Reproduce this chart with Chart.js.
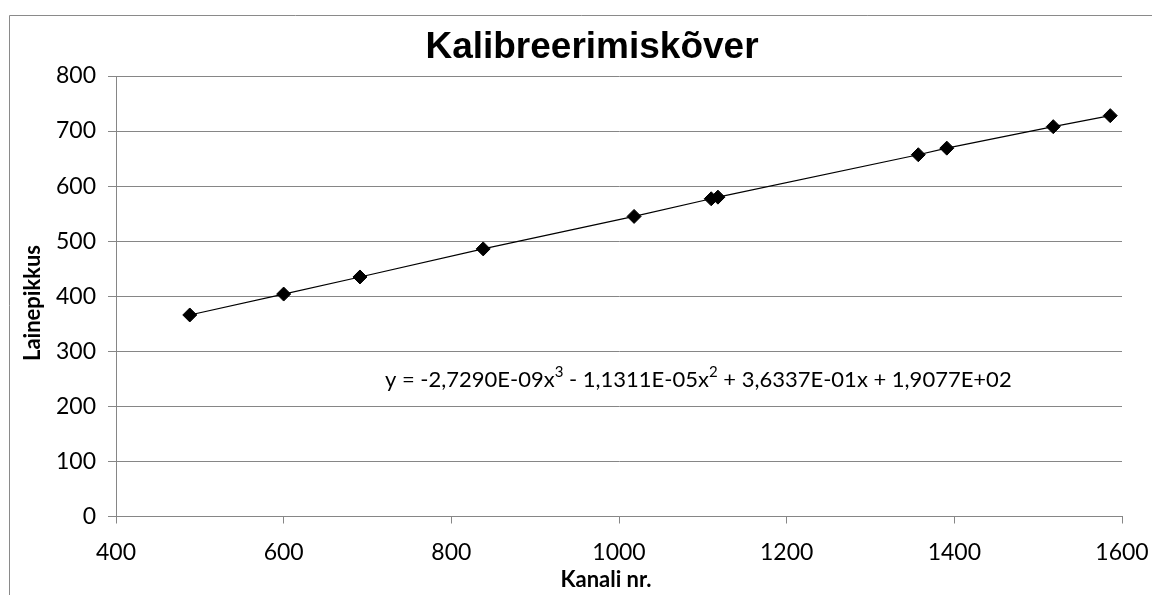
<!DOCTYPE html>
<html>
<head>
<meta charset="utf-8">
<script src="https://cdn.jsdelivr.net/npm/chart.js@4/dist/chart.umd.min.js"></script>
<style>
  html, body { margin: 0; padding: 0; background: #ffffff; }
  canvas { display: block; }
</style>
</head>
<body>
<canvas id="c" width="1152" height="595"></canvas>
<script>
// ---- data ----
const channels = [488, 600, 691, 838, 1018, 1110, 1118, 1357, 1391, 1518, 1586];
const wavelengths = [366, 404, 435, 486, 545, 577, 580, 657, 669, 708, 728];
const xTicks = [400, 600, 800, 1000, 1200, 1400, 1600];
const yTicks = [0, 100, 200, 300, 400, 500, 600, 700, 800];
const chartTitle = 'Kalibreerimiskõver';
const xTitle = 'Kanali nr.';
const yTitle = 'Lainepikkus';
// equation label parts: [text, isSuperscript]
const equationParts = [
  ['y = -2,7290E-09x', false], ['3', true],
  [' - 1,1311E-05x', false], ['2', true],
  [' + 3,6337E-01x + 1,9077E+02', false]
];

const FONT = 'Lato, "Open Sans", "Liberation Sans", sans-serif';
const GRID = '#868686';

const points = channels.map((x, i) => ({ x: x, y: wavelengths[i] }));

const decor = {
  id: 'decor',
  beforeDraw(chart) {
    const ctx = chart.ctx;
    ctx.save();
    ctx.fillStyle = '#ffffff';
    ctx.fillRect(0, 0, chart.width, chart.height);
    ctx.strokeStyle = '#8a8a8a';
    ctx.lineWidth = 1;
    ctx.beginPath();
    ctx.moveTo(9.5, chart.height + 2);
    ctx.lineTo(9.5, 15.5);
    ctx.lineTo(chart.width + 2, 15.5);
    ctx.stroke();
    ctx.restore();
  },
  afterDraw(chart) {
    const ctx = chart.ctx;
    ctx.save();
    // chart title
    ctx.fillStyle = '#000000';
    ctx.font = 'bold 37px "Liberation Sans", Arial, sans-serif';
    ctx.textAlign = 'center';
    ctx.textBaseline = 'alphabetic';
    ctx.fillText(chartTitle, 592, 58);
    // axis titles
    ctx.font = 'bold 22px ' + FONT;
    ctx.textBaseline = 'middle';
    ctx.fillText(xTitle, 606, 580);
    ctx.save();
    ctx.translate(33, 303);
    ctx.rotate(-Math.PI / 2);
    ctx.fillText(yTitle, 0, 0);
    ctx.restore();
    // equation
    ctx.textAlign = 'left';
    ctx.textBaseline = 'alphabetic';
    let x = 385;
    const base = 387;
    equationParts.forEach(([t, sup]) => {
      ctx.font = (sup ? '15px ' : '22px ') + FONT;
      ctx.fillText(t, x, sup ? base - 10 : base);
      x += ctx.measureText(t).width;
    });
    ctx.restore();
  }
};

new Chart(document.getElementById('c'), {
  type: 'scatter',
  data: {
    datasets: [
      {
        label: 'Kalibreerimispunktid',
        data: points,
        pointStyle: 'rectRot',
        pointRadius: 7,
        pointHoverRadius: 7,
        backgroundColor: '#000000',
        borderColor: '#000000',
        borderWidth: 1,
        showLine: false,
        order: 0
      },
      {
        label: 'Trend',
        data: points,
        showLine: true,
        borderColor: '#000000',
        borderWidth: 1.2,
        pointRadius: 0,
        pointHoverRadius: 0,
        fill: false,
        order: 1
      }
    ]
  },
  plugins: [decor],
  options: {
    responsive: false,
    animation: false,
    devicePixelRatio: 1,
    layout: { padding: { top: 76, right: 30, bottom: 0, left: 0 } },
    plugins: {
      legend: { display: false },
      title: { display: false },
      tooltip: { enabled: false }
    },
    scales: {
      x: {
        type: 'linear',
        min: xTicks[0],
        max: xTicks[xTicks.length - 1],
        afterBuildTicks(scale) { scale.ticks = xTicks.map(v => ({ value: v })); },
        afterFit(scale) { scale.height = 78.5; scale.paddingRight = 0; scale.paddingLeft = 0; },
        grid: { display: true, drawOnChartArea: false, drawTicks: true, tickLength: 7, color: GRID, lineWidth: 1 },
        border: { display: true, color: GRID, width: 1 },
        ticks: {
          color: '#000000', font: { family: FONT, size: 23 }, padding: 15, maxRotation: 0,
          callback: (v) => String(v)
        },
        title: { display: false, text: xTitle }
      },
      y: {
        type: 'linear',
        min: yTicks[0],
        max: yTicks[yTicks.length - 1],
        afterBuildTicks(scale) { scale.ticks = yTicks.map(v => ({ value: v })); },
        afterFit(scale) { scale.width = 116; },
        grid: { display: true, drawOnChartArea: true, drawTicks: true, tickLength: 8, color: GRID, lineWidth: 1 },
        border: { display: true, color: GRID, width: 1 },
        ticks: {
          color: '#000000', font: { family: FONT, size: 23 }, padding: 12,
          callback: (v) => String(v)
        },
        title: { display: false, text: yTitle }
      }
    }
  }
});
</script>
</body>
</html>
